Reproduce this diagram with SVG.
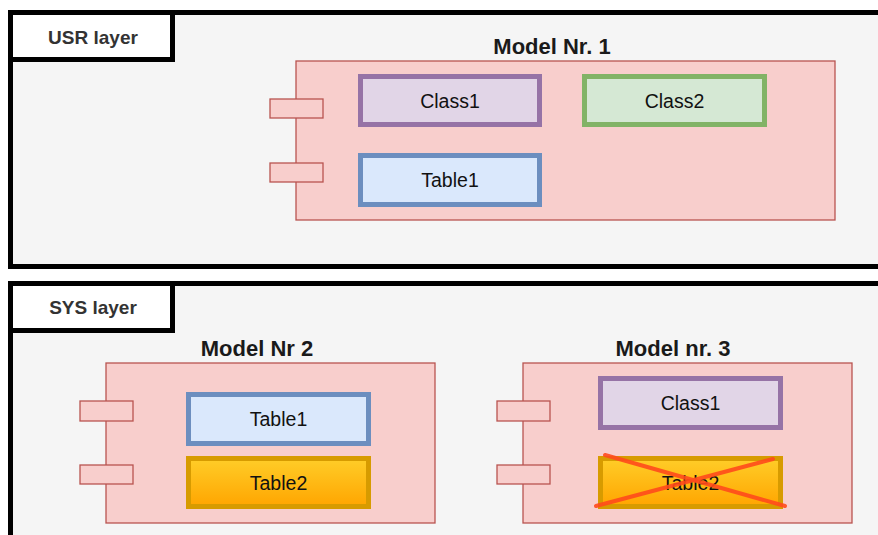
<svg xmlns="http://www.w3.org/2000/svg" width="878" height="535" viewBox="0 0 878 535">
<defs>
<linearGradient id="orange" x1="0" y1="0" x2="0" y2="1">
<stop offset="0" stop-color="#ffcd28"/>
<stop offset="1" stop-color="#ffa500"/>
</linearGradient>
<style>
.layer{fill:#f5f5f5;stroke:#000;stroke-width:5}
.tab{fill:#fff;stroke:#000;stroke-width:5}
.tabtxt{font-family:"Liberation Sans",Arial,sans-serif;font-size:19px;font-weight:bold;fill:#333;text-anchor:middle}
.title{font-family:"Liberation Sans",Arial,sans-serif;font-size:22px;font-weight:bold;fill:#1a1a1a;text-anchor:middle}
.comp{fill:#f8cecc;stroke:#b85450;stroke-width:1.3}
.port{fill:#f8cecc;stroke:#b85450;stroke-width:1.3}
.txt{font-family:"Liberation Sans",Arial,sans-serif;font-size:19.5px;fill:#111;text-anchor:middle}
.purple{fill:#e1d5e7;stroke:#9673a6;stroke-width:5}
.blue{fill:#dae8fc;stroke:#6c8ebf;stroke-width:5}
.green{fill:#d5e8d4;stroke:#82b366;stroke-width:5}
.orange{fill:url(#orange);stroke:#d79b00;stroke-width:5}
.cross{stroke:#ff4a1c;stroke-width:4;stroke-opacity:0.9;stroke-linecap:round}
</style>
</defs>
<rect x="0" y="0" width="878" height="535" fill="#fff"/>

<g id="usr-layer">
<rect class="layer" x="10.5" y="12.5" width="880" height="254"/>
<rect class="tab" x="10.5" y="12.5" width="162" height="47"/>
<text class="tabtxt" x="93" y="43.5">USR layer</text>
</g>

<g id="sys-layer">
<rect class="layer" x="10.5" y="283.5" width="880" height="270"/>
<rect class="tab" x="10.5" y="283.5" width="162" height="47"/>
<text class="tabtxt" x="93" y="314">SYS layer</text>
</g>

<g id="model1">
<text class="title" x="552" y="53.5">Model Nr. 1</text>
<rect class="comp" x="296" y="61" width="539" height="159"/>
<rect class="port" x="270" y="99" width="53" height="19"/>
<rect class="port" x="270" y="163" width="53" height="19"/>
</g>
<g id="m1-class1">
<rect class="purple" x="360.5" y="76.5" width="179" height="48"/>
<text class="txt" x="450" y="107.5">Class1</text>
</g>
<g id="m1-class2">
<rect class="green" x="584.5" y="76.5" width="180" height="48"/>
<text class="txt" x="674.5" y="107.5">Class2</text>
</g>
<g id="m1-table1">
<rect class="blue" x="360.5" y="155.5" width="179" height="49"/>
<text class="txt" x="450" y="187">Table1</text>
</g>

<g id="model2">
<text class="title" x="257" y="356">Model Nr 2</text>
<rect class="comp" x="106" y="363" width="329" height="160"/>
<rect class="port" x="80" y="401" width="53" height="20"/>
<rect class="port" x="80" y="465" width="53" height="19"/>
</g>
<g id="m2-table1">
<rect class="blue" x="188.5" y="394.5" width="180" height="49"/>
<text class="txt" x="278.5" y="426">Table1</text>
</g>
<g id="m2-table2">
<rect class="orange" x="188.5" y="458.5" width="180" height="48"/>
<text class="txt" x="278.5" y="489.5">Table2</text>
</g>

<g id="model3">
<text class="title" x="673" y="356">Model nr. 3</text>
<rect class="comp" x="523" y="363" width="329" height="160"/>
<rect class="port" x="497" y="401" width="53" height="20"/>
<rect class="port" x="497" y="465" width="53" height="19"/>
</g>
<g id="m3-class1">
<rect class="purple" x="600.5" y="378.5" width="180" height="49"/>
<text class="txt" x="690.5" y="410">Class1</text>
</g>
<g id="m3-table2">
<rect class="orange" x="600.5" y="458.5" width="180" height="48"/>
<text class="txt" x="690.5" y="489.5">Table2</text>
</g>

<g id="connectors">
<line class="cross" x1="605" y1="455" x2="785" y2="506"/>
<line class="cross" x1="596" y1="506" x2="773" y2="459"/>
</g>
</svg>
